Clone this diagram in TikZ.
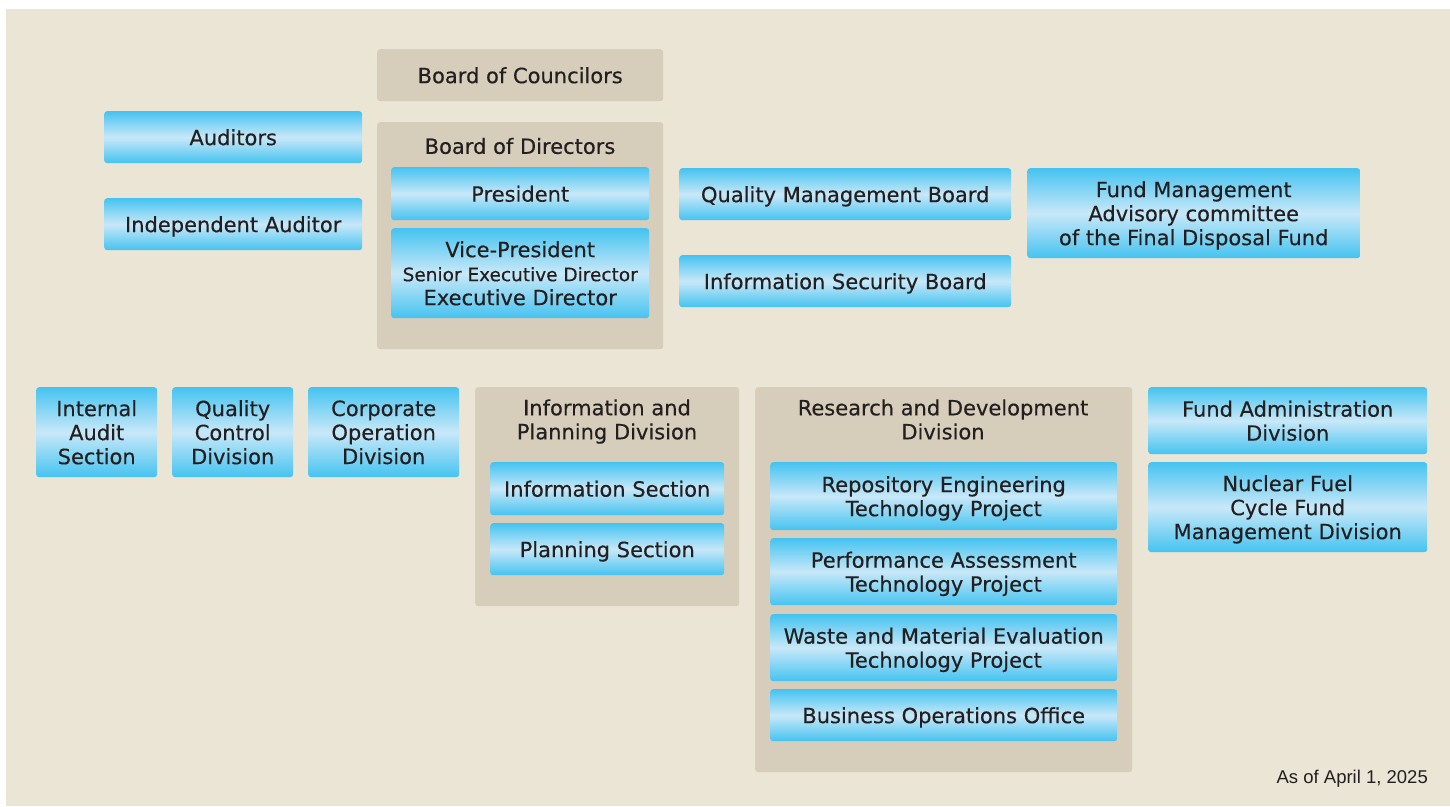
\documentclass[tikz,border=0pt]{standalone}
\usepackage{fontspec}
\setmainfont{DejaVu Sans}[FakeBold=0.35]
\newfontfamily\datefont{Liberation Sans}
\usetikzlibrary{positioning}
\definecolor{paper}{HTML}{EBE5D6}
\definecolor{groupbg}{HTML}{D6CDBA}
\definecolor{skyedge}{HTML}{45C3F0}
\definecolor{skymid}{HTML}{C8E8F8}
\definecolor{ink}{HTML}{231F20}
\tikzset{
  unit/.style={anchor=north west, rounded corners=3pt, top color=skyedge, bottom color=skyedge,
    middle color=skymid, text=ink, align=center, inner sep=0pt, text depth=0pt,
    font=\fontsize{21}{24}\selectfont},
  groupbox/.style={anchor=north west, rounded corners=3pt, fill=groupbg, inner sep=0pt},
  grouptitle/.style={text=ink, align=center, font=\fontsize{21}{24}\selectfont},
  boxsize/.style 2 args={minimum width=#1pt, minimum height=#2pt},
}

\begin{document}
\begin{tikzpicture}[x=1pt,y=-1pt]
  \useasboundingbox (0,0) rectangle (1450,806);
  \fill[white] (0,0) rectangle (1450,806);
  \fill[paper] (6,9) rectangle (1450,806);
  % board level
  \node[groupbox, boxsize={286}{52}, text=ink, text depth=0pt, font=\fontsize{21}{24}\selectfont] (councilors) at (377,49) {Board of Councilors};
  \node[groupbox, boxsize={286}{227}] (directors) at (377,122) {};
  \node[grouptitle] (directorstitle) at (520,146) {Board of Directors};
  \node[unit, boxsize={258}{53}] (president) at (391,167) {President};
  \node[unit, boxsize={258}{90}] (vicepres) at (391,228) {Vice-President\\
    {\fontsize{18.5}{24}\selectfont Senior Executive Director}\\Executive Director};
  \node[unit, boxsize={258}{52}] (auditors) at (104,111) {Auditors};
  \node[unit, boxsize={258}{52}] (indauditor) at (104,198) {Independent Auditor};
  \node[unit, boxsize={332}{52}] (qmboard) at (679,168) {Quality Management Board};
  \node[unit, boxsize={332}{52}] (isboard) at (679,255) {Information Security Board};
  \node[unit, boxsize={333}{90}] (fundadvisory) at (1027,168) {Fund Management\\Advisory committee\\of the Final Disposal Fund};
  % divisions
  \node[unit, boxsize={121}{90}] (internalaudit) at (36,387) {Internal\\Audit\\Section};
  \node[unit, boxsize={121}{90}] (qcdiv) at (172,387) {Quality\\Control\\Division};
  \node[unit, boxsize={151}{90}] (corpop) at (308,387) {Corporate\\Operation\\Division};
  \node[groupbox, boxsize={264}{219}] (infoplan) at (475,387) {};
  \node[grouptitle] (infoplantitle) at (607,421.5) {Information and\\Planning Division};
  \node[unit, boxsize={234}{53}] (infosec) at (490,462) {Information Section};
  \node[unit, boxsize={234}{52}] (plansec) at (490,523) {Planning Section};
  \node[groupbox, boxsize={377}{385}] (rnd) at (755,387) {};
  \node[grouptitle] (rndtitle) at (943,419.5) {Research and Development\\Division};
  \node[unit, boxsize={347}{68}] (repository) at (770,462) {Repository Engineering\\Technology Project};
  \node[unit, boxsize={347}{67}] (performance) at (770,538) {Performance Assessment\\Technology Project};
  \node[unit, boxsize={347}{67}] (waste) at (770,614) {Waste and Material Evaluation\\Technology Project};
  \node[unit, boxsize={347}{52}] (business) at (770,689) {Business Operations Office};
  \node[unit, boxsize={279}{67}] (fundadmin) at (1148,387) {Fund Administration\\Division};
  \node[unit, boxsize={279}{90}] (nuclearfund) at (1148,462) {Nuclear Fuel\\Cycle Fund\\Management Division};
  \node[anchor=east, text=ink, font=\datefont\fontsize{18.5}{22}\selectfont, inner sep=0pt] (asof) at (1428,779) {As of April 1, 2025};
\end{tikzpicture}
\end{document}
